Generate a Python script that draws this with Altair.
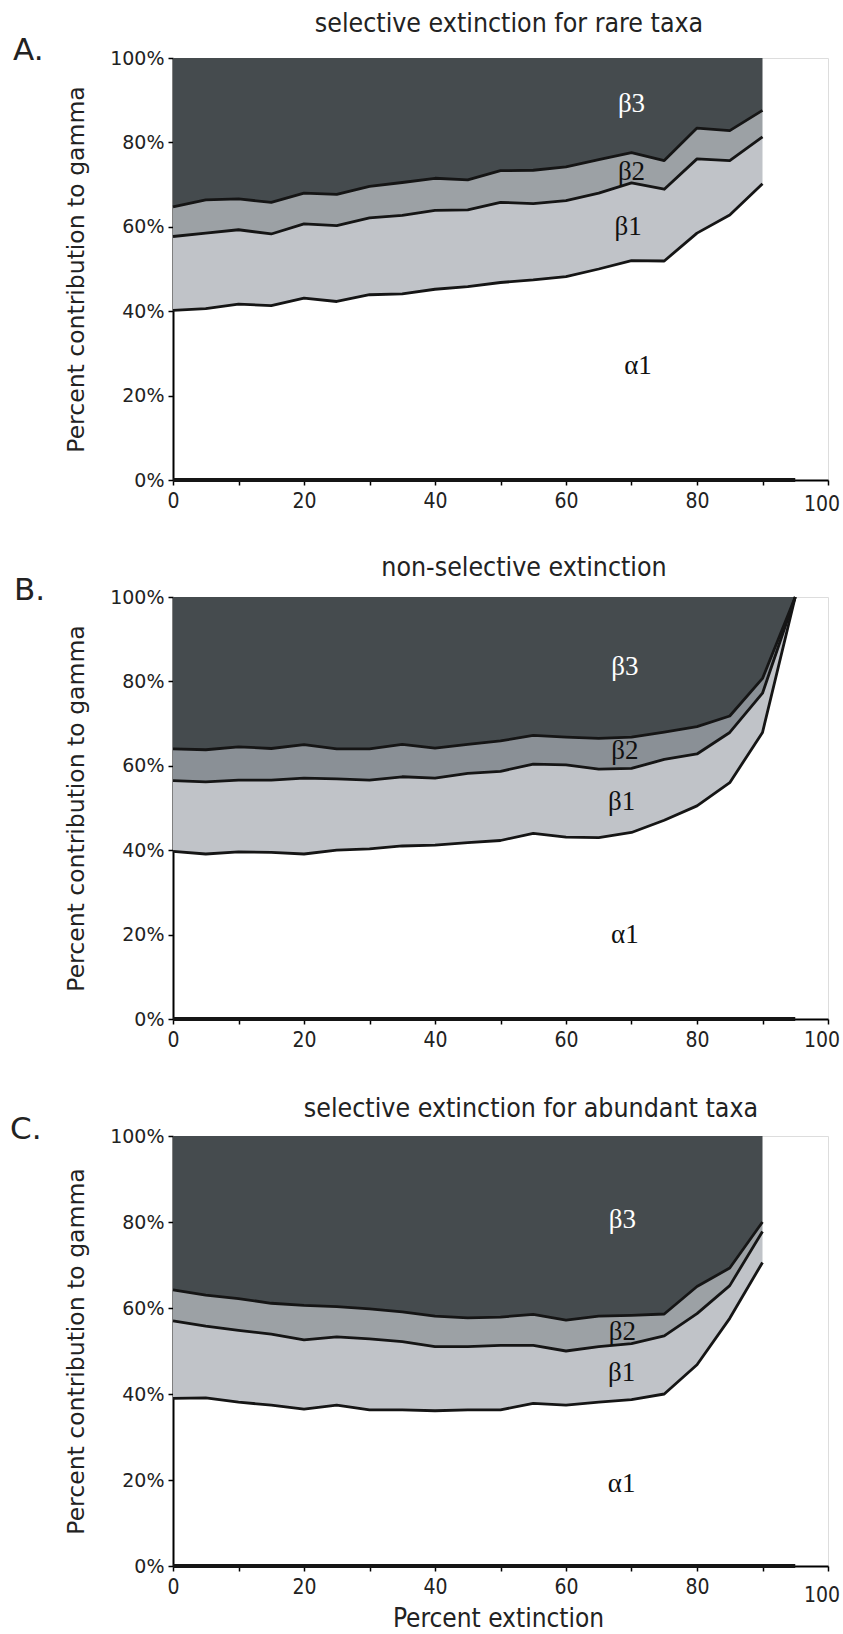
import altair as alt
import pandas as pd

# ---------------- data ----------------
x_A = [0, 5, 10, 15, 20, 25, 30, 35, 40, 45, 50, 55, 60, 65, 70, 75, 80, 85, 90]
A_alpha1_top = [40.2, 40.6, 41.7, 41.3, 43.1, 42.3, 43.9, 44.1, 45.2, 45.8, 46.8, 47.4, 48.2, 50.0, 52.0, 51.9, 58.5, 62.8, 70.2]
A_beta1_top = [57.7, 58.5, 59.3, 58.3, 60.7, 60.3, 62.1, 62.7, 63.9, 64.0, 65.8, 65.5, 66.2, 68.0, 70.4, 68.9, 76.1, 75.7, 81.3]
A_beta2_top = [64.7, 66.4, 66.6, 65.8, 68.0, 67.7, 69.6, 70.5, 71.5, 71.1, 73.3, 73.4, 74.2, 75.9, 77.6, 75.7, 83.4, 82.8, 87.6]

x_B = [0, 5, 10, 15, 20, 25, 30, 35, 40, 45, 50, 55, 60, 65, 70, 75, 80, 85, 90, 95]
B_alpha1_top = [39.7, 39.1, 39.6, 39.5, 39.1, 40.0, 40.3, 41.0, 41.2, 41.8, 42.3, 44.0, 43.1, 43.0, 44.2, 47.1, 50.5, 56.0, 67.9, 100]
B_beta1_top = [56.5, 56.2, 56.6, 56.6, 57.1, 56.9, 56.6, 57.4, 57.1, 58.2, 58.7, 60.4, 60.2, 59.2, 59.4, 61.5, 62.8, 67.9, 77.2, 100]
B_beta2_top = [64.0, 63.8, 64.5, 64.1, 65.0, 64.0, 64.0, 65.1, 64.2, 65.1, 65.9, 67.2, 66.8, 66.5, 66.8, 68.0, 69.3, 71.8, 80.7, 100]

x_C = [0, 5, 10, 15, 20, 25, 30, 35, 40, 45, 50, 55, 60, 65, 70, 75, 80, 85, 90]
C_alpha1_top = [39.0, 39.1, 38.1, 37.4, 36.5, 37.4, 36.3, 36.3, 36.1, 36.3, 36.3, 37.8, 37.4, 38.1, 38.7, 40.0, 46.8, 57.6, 70.6]
C_beta1_top = [57.0, 55.8, 54.8, 53.9, 52.6, 53.3, 52.8, 52.2, 51.0, 51.0, 51.3, 51.3, 50.0, 51.0, 51.7, 53.5, 58.7, 65.2, 77.8]
C_beta2_top = [64.2, 63.0, 62.2, 61.1, 60.6, 60.3, 59.8, 59.1, 58.1, 57.7, 57.9, 58.5, 57.2, 58.1, 58.3, 58.6, 65.0, 69.3, 80.0]

panel_titles = ["selective extinction for rare taxa",
                "non-selective extinction",
                "selective extinction for abundant taxa"]
panel_letters = ["A.", "B.", "C."]
component_names = ["β3", "β2", "β1", "α1"]
# label anchor points (x, y in data units) for each panel
label_x_A = [70, 70, 69.5, 71]
label_y_A = [89, 73, 60, 27]
label_x_B = [69, 69, 68.5, 69]
label_y_B = [83.5, 63.5, 51.5, 20]
label_x_C = [68.6, 68.6, 68.5, 68.5]
label_y_C = [80.5, 54.5, 45, 19]

y_ticks = [0, 20, 40, 60, 80, 100]
x_ticks = [0, 10, 20, 30, 40, 50, 60, 70, 80, 90, 100]
x_last_label = ["100"]
x_last_value = [100]
baseline_end = 95

# ---------------- styling ----------------
C_B3 = "#454b4e"
C_B1 = "#c0c3c8"
LINE = "#151515"
COND = "DejaVu Sans Condensed, Liberation Sans Narrow, Liberation Sans"
W = 655


def panel(x, a1, b1, b2, b2_color, title, letter, lx, ly, height,
          title_dx, title_dy, letter_dx, letter_dy, last_dy, show_xtitle):
    df = pd.DataFrame({"x": x, "a1": a1, "b1": b1, "b2": b2})
    df["top"] = 100.0
    base = alt.Chart(df)

    xscale = alt.Scale(domain=[0, 100], nice=False)
    yscale = alt.Scale(domain=[0, 100], nice=False)

    x_axis_kwargs = dict(
        values=x_ticks,
        labelExpr="datum.value % 20 == 0 && datum.value < 100 ? datum.label : ''",
        labelFont=COND, labelFontSize=21, labelColor="#222", labelFlush=False,
        labelPadding=5, tickSize=5, tickColor="black", tickWidth=1.5,
        domainColor="black", domainWidth=2, grid=False,
    )
    if show_xtitle:
        x_axis_kwargs.update(
            title="Percent extinction", titleFont=COND, titleFontSize=26,
            titleFontWeight="normal", titleColor="#222",
            titleX=325, titleY=52, titleBaseline="middle", titleAlign="center",
        )
    else:
        x_axis_kwargs.update(title=None)
    X = alt.X("x:Q", scale=xscale, axis=alt.Axis(**x_axis_kwargs))

    y_axis = alt.Axis(
        values=y_ticks, labelExpr="datum.value + '%'",
        labelFont="DejaVu Sans", labelFontSize=19, labelColor="#222",
        labelPadding=4, tickSize=5, tickColor="black", tickWidth=1.5,
        domainColor="black", domainWidth=2, grid=False,
        title="Percent contribution to gamma", titleFont="DejaVu Sans",
        titleFontSize=23.5, titleFontWeight="normal", titleColor="#222",
        titleX=-97, titleY=height / 2, titleAngle=270,
        titleAlign="center", titleBaseline="middle",
    )

    area_b3 = base.mark_area(color=C_B3).encode(
        x=X, y=alt.Y("b2:Q", scale=yscale, axis=y_axis), y2="top:Q")
    area_b2 = base.mark_area(color=b2_color).encode(
        x="x:Q", y="b1:Q", y2="b2:Q")
    area_b1 = base.mark_area(color=C_B1).encode(
        x="x:Q", y="a1:Q", y2="b1:Q")

    lines = base.transform_fold(["a1", "b1", "b2"], as_=["key", "value"]).mark_line(
        color=LINE, strokeWidth=2.8, strokeJoin="round"
    ).encode(x="x:Q", y="value:Q", detail="key:N")

    rule_df = pd.DataFrame({"x0": [0], "x1": [baseline_end], "y": [0]})
    base_rule = alt.Chart(rule_df).mark_rule(color=LINE, strokeWidth=4).encode(
        x="x0:Q", x2="x1:Q", y="y:Q")

    lab_df = pd.DataFrame({"name": component_names, "lx": lx, "ly": ly,
                           "white": [True, False, False, False]})
    labels = alt.Chart(lab_df).mark_text(
        font="Liberation Serif", fontSize=27, align="center", baseline="middle"
    ).encode(
        x="lx:Q", y="ly:Q", text="name:N",
        color=alt.Color("white:N", scale=alt.Scale(domain=[True, False],
                                                   range=["#ffffff", "#111111"]),
                        legend=None),
    )

    last_lab = alt.Chart(pd.DataFrame({"v": x_last_value, "t": x_last_label})).mark_text(
        font=COND, fontSize=21, align="center", baseline="top", color="#222", dx=-6
    ).encode(x="v:Q", y=alt.value(height + 10 + last_dy), text="t:N")

    title_mark = alt.Chart(pd.DataFrame({"t": [title]})).mark_text(
        font=COND, fontSize=26.5, align="center", baseline="middle", color="#222"
    ).encode(text="t:N", x=alt.value(title_dx), y=alt.value(title_dy))

    letter_mark = alt.Chart(pd.DataFrame({"t": [letter]})).mark_text(
        font="DejaVu Sans", fontSize=31, align="left", baseline="middle", color="#222"
    ).encode(text="t:N", x=alt.value(letter_dx), y=alt.value(letter_dy))

    return alt.layer(area_b3, area_b2, area_b1, lines, base_rule, labels,
                     last_lab, title_mark, letter_mark).properties(width=W, height=height)


pA = panel(x_A, A_alpha1_top, A_beta1_top, A_beta2_top, "#9ca1a5",
           panel_titles[0], panel_letters[0], label_x_A, label_y_A, 422,
           336, -34, -160, -7, 4, False)
pB = panel(x_B, B_alpha1_top, B_beta1_top, B_beta2_top, "#8a9096",
           panel_titles[1], panel_letters[1], label_x_B, label_y_B, 422,
           351, -29, -159, -6, 1, False)
pC = panel(x_C, C_alpha1_top, C_beta1_top, C_beta2_top, "#9ca1a5",
           panel_titles[2], panel_letters[2], label_x_C, label_y_C, 430,
           358, -27, -163, -6, 9, True)

chart = alt.vconcat(pA, pB, pC, spacing=117, bounds="flush").properties(
    padding={"left": 9, "top": 10, "right": 0, "bottom": 0}
).configure_view(stroke="transparent").configure(background="white")

chart.save("out.html", embed_options={"renderer": "svg", "actions": False})
